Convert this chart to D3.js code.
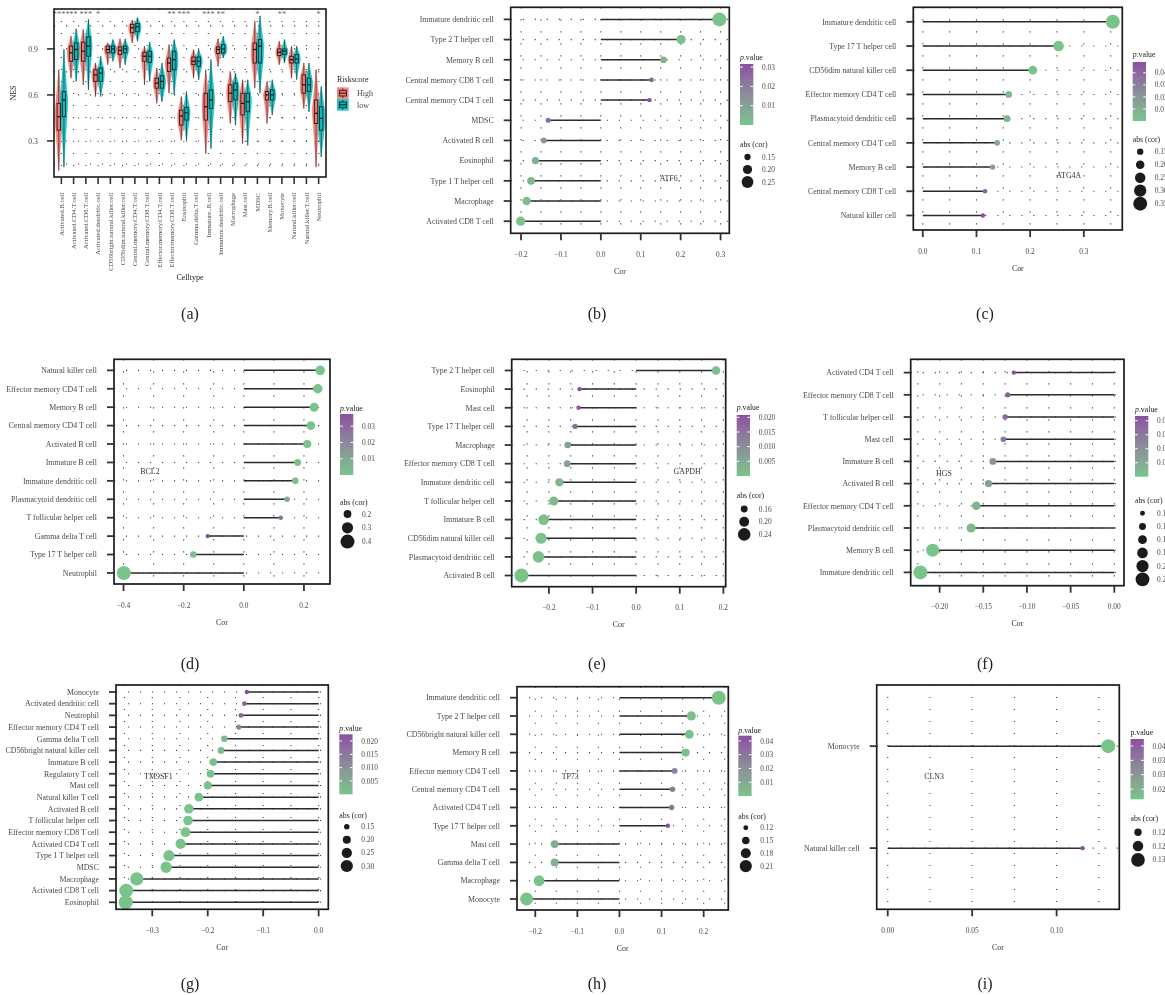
<!DOCTYPE html>
<html>
<head>
<meta charset="utf-8">
<script src="https://cdn.jsdelivr.net/npm/d3@7"></script>
<style>
  html, body { margin: 0; padding: 0; background: #fff; }
  svg { display: block; font-family: "Liberation Serif", "Times New Roman", serif; will-change: transform; }
</style>
</head>
<body>
<svg id="fig" width="1165" height="995"></svg>
<script>
// ---------------- Panel (a): NES of immune cell types by risk score group ----------------
const cellTypes = ["Activated.B.cell","Activated.CD4.T.cell","Activated.CD8.T.cell","Activated.dendritic.cell",
  "CD56bright.natural.killer.cell","CD56dim.natural.killer.cell","Central.memory.CD4.T.cell","Central.memory.CD8.T.cell",
  "Effector.memory.CD4.T.cell","Effector.memory.CD8.T.cell","Eosinophil","Gamma.delta.T.cell","Immature..B.cell",
  "Immature.dendritic.cell","Macrophage","Mast.cell","MDSC","Memory.B.cell","Monocyte","Natural.killer.cell",
  "Natural.killer.T.cell","Neutrophil"];
const riskGroups = ["High", "low"];
const nesTicks = [0.3, 0.6, 0.9];
// [min, q1, median, q3, max] per cell type
const highStats = [
  [0.107,0.370,0.458,0.545,0.764],[0.709,0.819,0.874,0.918,0.983],[0.666,0.819,0.885,0.944,1.027],
  [0.589,0.688,0.731,0.764,0.808],[0.797,0.874,0.896,0.918,0.939],[0.775,0.863,0.891,0.913,0.966],
  [0.939,1.005,1.038,1.060,1.088],[0.666,0.819,0.852,0.878,0.918],[0.545,0.644,0.677,0.709,0.775],
  [0.611,0.753,0.808,0.841,0.928],[0.304,0.403,0.462,0.501,0.589],[0.709,0.797,0.819,0.847,0.896],
  [0.217,0.436,0.523,0.611,0.764],[0.786,0.869,0.896,0.913,0.966],[0.414,0.556,0.611,0.666,0.753],
  [0.282,0.469,0.545,0.611,0.699],[0.644,0.808,0.896,0.939,1.082],[0.414,0.567,0.600,0.622,0.688],
  [0.797,0.856,0.878,0.900,0.950],[0.709,0.808,0.830,0.852,0.918],[0.512,0.611,0.666,0.731,0.808],
  [0.129,0.414,0.480,0.567,0.764]];
const lowStats = [
  [0.129,0.458,0.567,0.622,0.896],[0.688,0.830,0.896,0.939,1.031],[0.633,0.852,0.918,0.979,1.093],
  [0.589,0.688,0.742,0.775,0.852],[0.819,0.874,0.900,0.918,0.961],[0.797,0.874,0.900,0.918,0.966],
  [0.950,1.012,1.045,1.066,1.104],[0.688,0.812,0.852,0.885,0.944],[0.556,0.644,0.688,0.725,0.808],
  [0.600,0.764,0.830,0.885,0.961],[0.304,0.436,0.484,0.519,0.622],[0.699,0.786,0.819,0.847,0.896],
  [0.250,0.512,0.567,0.633,0.830],[0.841,0.874,0.900,0.928,0.983],[0.403,0.567,0.633,0.677,0.742],
  [0.271,0.490,0.556,0.611,0.699],[0.611,0.808,0.918,0.961,1.115],[0.469,0.567,0.600,0.633,0.699],
  [0.808,0.863,0.885,0.900,0.961],[0.699,0.808,0.834,0.863,0.918],[0.490,0.622,0.666,0.709,0.808],
  [0.195,0.370,0.447,0.523,0.655]];
const sigLabels = ["****","**","***","*","","","","","","**","***","","***","**","","","*","","**","","","*"];

// ---------------- Panels (b)-(i): gene / immune cell correlations ----------------
const atf6Cells = ["Immature dendritic cell","Type 2 T helper cell","Memory B cell","Central memory CD8 T cell",
  "Central memory CD4 T cell","MDSC","Activated B cell","Eosinophil","Type 1 T helper cell","Macrophage","Activated CD8 T cell"];
const atf6Cor = [0.297, 0.201, 0.157, 0.127, 0.122, -0.132, -0.143, -0.164, -0.175, -0.186, -0.201];
const atf6P = [0.00001, 0.0009, 0.0055, 0.026, 0.0316, 0.024, 0.013, 0.005, 0.0035, 0.002, 0.0009];

const atg4aCells = ["Immature dendritic cell","Type 17 T helper cell","CD56dim natural killer cell","Effector memory CD4 T cell",
  "Plasmacytoid dendritic cell","Central memory CD4 T cell","Memory B cell","Central memory CD8 T cell","Natural killer cell"];
const atg4aCor = [0.354, 0.253, 0.205, 0.160, 0.157, 0.1385, 0.130, 0.116, 0.112];
const atg4aP = [0.00001, 0.0001, 0.0008, 0.0045, 0.0055, 0.011, 0.018, 0.042, 0.049];

const bcl2Cells = ["Natural killer cell","Effector memory CD4 T cell","Memory B cell","Central memory CD4 T cell",
  "Activated B cell","Immature B cell","Immature dendritic cell","Plasmacytoid dendritic cell","T follicular helper cell",
  "Gamma delta T cell","Type 17 T helper cell","Neutrophil"];
const bcl2Cor = [0.254, 0.246, 0.234, 0.223, 0.211, 0.179, 0.171, 0.144, 0.123, -0.120, -0.168, -0.399];
const bcl2P = [0.00001, 0.00001, 0.00002, 0.00004, 0.0001, 0.0008, 0.0012, 0.007, 0.027, 0.0375, 0.0025, 0.000001];

const gapdhCells = ["Type 2 T helper cell","Eosinophil","Mast cell","Type 17 T helper cell","Macrophage",
  "Effector memory CD8 T cell","Immature dendritic cell","T follicular helper cell","Immature B cell",
  "CD56dim natural killer cell","Plasmacytoid dendritic cell","Activated B cell"];
const gapdhCor = [0.183, -0.130, -0.132, -0.140, -0.157, -0.158, -0.176, -0.189, -0.212, -0.218, -0.224, -0.263];
const gapdhP = [0.0012, 0.0208, 0.0195, 0.015, 0.0068, 0.0066, 0.0028, 0.0018, 0.0006, 0.0005, 0.0004, 0.00001];

const hgsCells = ["Activated CD4 T cell","Effector memory CD8 T cell","T follicular helper cell","Mast cell",
  "Immature B cell","Activated B cell","Effector memory CD4 T cell","Plasmacytoid dendritic cell","Memory B cell",
  "Immature dendritic cell"];
const hgsCor = [-0.115, -0.122, -0.125, -0.127, -0.139, -0.144, -0.158, -0.164, -0.208, -0.222];
const hgsP = [0.0217, 0.019, 0.017, 0.0155, 0.009, 0.0075, 0.003, 0.002, 0.0001, 0.00002];

const tm9sf1Cells = ["Monocyte","Activated dendritic cell","Neutrophil","Effector memory CD4 T cell","Gamma delta T cell",
  "CD56bright natural killer cell","Immature B cell","Regulatory T cell","Mast cell","Natural killer T cell",
  "Activated B cell","T follicular helper cell","Effector memory CD8 T cell","Activated CD4 T cell",
  "Type 1 T helper cell","MDSC","Macrophage","Activated CD8 T cell","Eosinophil"];
const tm9sf1Cor = [-0.1295, -0.134, -0.140, -0.144, -0.170, -0.176, -0.190, -0.195, -0.200, -0.216, -0.234,
  -0.2355, -0.240, -0.249, -0.270, -0.275, -0.328, -0.347, -0.348];
const tm9sf1P = [0.0225, 0.020, 0.018, 0.013, 0.002, 0.0015, 0.0006, 0.0005, 0.0004, 0.0001, 0.00003,
  0.00003, 0.00002, 0.00001, 0.000002, 0.000001, 0.0000001, 0.00000001, 0.00000001];

const tp73Cells = ["Immature dendritic cell","Type 2 T helper cell","CD56bright natural killer cell","Memory B cell",
  "Effector memory CD4 T cell","Central memory CD4 T cell","Activated CD4 T cell","Type 17 T helper cell",
  "Mast cell","Gamma delta T cell","Macrophage","Monocyte"];
const tp73Cor = [0.2357, 0.1706, 0.1659, 0.157, 0.131, 0.126, 0.124, 0.115, -0.154, -0.154, -0.191, -0.2206];
const tp73P = [0.00002, 0.0009, 0.0011, 0.002, 0.025, 0.028, 0.030, 0.0438, 0.0085, 0.0085, 0.0008, 0.0001];

const cln3Cells = ["Monocyte","Natural killer cell"];
const cln3Cor = [0.1306, 0.1154];
const cln3P = [0.0215, 0.0424];

// axis breaks and legend breaks per gene
const atf6Ticks = [-0.2,-0.1,0,0.1,0.2,0.3],  atf6PBreaks = [0.01,0.02,0.03],  atf6SizeBreaks = [0.15,0.20,0.25];
const atg4aTicks = [0,0.1,0.2,0.3],           atg4aPBreaks = [0.01,0.02,0.03,0.04], atg4aSizeBreaks = [0.15,0.20,0.25,0.30,0.35];
const bcl2Ticks = [-0.4,-0.2,0,0.2],          bcl2PBreaks = [0.01,0.02,0.03],  bcl2SizeBreaks = [0.2,0.3,0.4];
const gapdhTicks = [-0.2,-0.1,0,0.1,0.2],     gapdhPBreaks = [0.005,0.010,0.015,0.020], gapdhSizeBreaks = [0.16,0.20,0.24];
const hgsTicks = [-0.20,-0.15,-0.10,-0.05,0], hgsPBreaks = [0.005,0.010,0.015,0.020], hgsSizeBreaks = [0.12,0.14,0.16,0.18,0.20,0.22];
const tm9sf1Ticks = [-0.3,-0.2,-0.1,0],       tm9sf1PBreaks = [0.005,0.010,0.015,0.020], tm9sf1SizeBreaks = [0.15,0.20,0.25,0.30];
const tp73Ticks = [-0.2,-0.1,0,0.1,0.2],      tp73PBreaks = [0.01,0.02,0.03,0.04], tp73SizeBreaks = [0.12,0.15,0.18,0.21];
const cln3Ticks = [0,0.05,0.10],              cln3PBreaks = [0.025,0.030,0.035,0.040], cln3SizeBreaks = [0.120,0.125,0.130];

// ---------------- drawing ----------------
const svg = d3.select("#fig");
svg.append("rect").attr("width", 1165).attr("height", 995).attr("fill", "#fff");
const defs = svg.append("defs");

const GREEN = "#79C48B", PURPLE = "#8C4FA2";
const AXIS_TXT = "#4a4a4a", TITLE_TXT = "#222";
const HIGH_COL = "#F8766D", LOW_COL = "#00BFC4";

function dotted(g, xa, ya, xb, yb) {
  g.append("line").attr("x1", xa).attr("y1", ya).attr("x2", xb).attr("y2", yb)
    .attr("stroke", "#3a3a3a").attr("stroke-width", 1.1).attr("stroke-dasharray", "1.1,10.9");
}
function label(g, x, y, str, size, opts = {}) {
  return g.append("text").attr("x", x).attr("y", y).attr("dy", "0.35em")
    .attr("font-size", size).attr("fill", opts.fill || AXIS_TXT)
    .attr("text-anchor", opts.anchor || "start").text(str);
}

// ---------- panel (a) ----------
(function drawViolins() {
  const box = {x0: 54, y0: 9, x1: 326, y1: 177};
  const g = svg.append("g");
  const x = d3.scalePoint().domain(cellTypes).range([box.x0, box.x1]).padding(0.6);
  const y = d3.scaleLinear().domain([0.065, 1.16]).range([box.y1, box.y0]);

  cellTypes.forEach(c => dotted(g, x(c), box.y0, x(c), box.y1));
  d3.range(1, 8).map(k => k * 0.15).forEach(v => dotted(g, box.x0, y(v), box.x1, y(v)));

  const groupColor = d3.scaleOrdinal().domain(riskGroups).range([HIGH_COL, LOW_COL]);
  const dodge = d3.scalePoint().domain(riskGroups).range([-2.6, 2.6]);
  const halfW = 3.6, boxHalf = 1.7;

  const violin = (cx) => d3.area()
    .y(d => y(d.v)).x0(d => cx - d.w * halfW).x1(d => cx + d.w * halfW)
    .curve(d3.curveCatmullRom.alpha(0.5));

  const profile = s => {
    const [mn, q1, md, q3, mx] = s;
    return [{v: mn, w: 0}, {v: (mn + q1) / 2, w: 0.35}, {v: q1, w: 0.8}, {v: md, w: 1},
            {v: q3, w: 0.8}, {v: (q3 + mx) / 2, w: 0.35}, {v: mx, w: 0}];
  };

  cellTypes.forEach((c, i) => {
    [["High", highStats[i]], ["low", lowStats[i]]].forEach(([grp, s]) => {
      const cx = x(c) + dodge(grp);
      g.append("path").attr("d", violin(cx)(profile(s)))
        .attr("fill", groupColor(grp)).attr("fill-opacity", 0.85)
        .attr("stroke", groupColor(grp)).attr("stroke-width", 0.6);
    });
    [["High", highStats[i]], ["low", lowStats[i]]].forEach(([grp, s]) => {
      const cx = x(c) + dodge(grp);
      const [mn, q1, md, q3, mx] = s;
      g.append("line").attr("x1", cx).attr("x2", cx).attr("y1", y(mn)).attr("y2", y(mx))
        .attr("stroke", "#2a2a2a").attr("stroke-width", 0.7);
      g.append("rect").attr("x", cx - boxHalf).attr("width", boxHalf * 2)
        .attr("y", y(q3)).attr("height", y(q1) - y(q3))
        .attr("fill", groupColor(grp)).attr("stroke", "#1e1e1e").attr("stroke-width", 0.9);
      g.append("line").attr("x1", cx - boxHalf).attr("x2", cx + boxHalf).attr("y1", y(md)).attr("y2", y(md))
        .attr("stroke", "#111").attr("stroke-width", 1.2);
    });
  });

  // significance marks
  cellTypes.forEach((c, i) => {
    if (!sigLabels[i]) return;
    g.append("text").attr("x", x(c)).attr("y", y(1.11)).attr("text-anchor", "middle")
      .attr("font-size", 8.5).attr("fill", "#666").text(sigLabels[i]);
  });

  g.append("rect").attr("x", box.x0).attr("y", box.y0).attr("width", box.x1 - box.x0).attr("height", box.y1 - box.y0)
    .attr("fill", "none").attr("stroke", "#1a1a1a").attr("stroke-width", 1.6);

  nesTicks.forEach(v => {
    g.append("line").attr("x1", box.x0 - 7).attr("x2", box.x0).attr("y1", y(v)).attr("y2", y(v))
      .attr("stroke", "#333").attr("stroke-width", 1.6);
    label(g, box.x0 - 16, y(v), v.toFixed(1), 7.8, {anchor: "end"});
  });
  cellTypes.forEach(c => {
    g.append("line").attr("x1", x(c)).attr("x2", x(c)).attr("y1", box.y1).attr("y2", box.y1 + 7)
      .attr("stroke", "#333").attr("stroke-width", 1.6);
    g.append("text").attr("transform", `translate(${x(c)},${box.y1 + 16}) rotate(-90)`)
      .attr("dy", "0.35em").attr("text-anchor", "end").attr("font-size", 6.6).attr("fill", AXIS_TXT).text(c);
  });
  g.append("text").attr("transform", `translate(13,${(box.y0 + box.y1) / 2}) rotate(-90)`)
    .attr("dy", "0.35em").attr("text-anchor", "middle").attr("font-size", 8).attr("fill", TITLE_TXT).text("NES");
  label(g, (box.x0 + box.x1) / 2, 277, "Celltype", 8, {anchor: "middle", fill: TITLE_TXT});

  // legend
  const lx = 337, ly = 87.3, key = 11.7;
  label(g, lx, 79.3, "Riskscore", 8, {fill: TITLE_TXT});
  riskGroups.forEach((grp, k) => {
    const ky = ly + k * key;
    g.append("rect").attr("x", lx).attr("y", ky).attr("width", key).attr("height", key)
      .attr("fill", groupColor(grp)).attr("fill-opacity", 0.85);
    g.append("line").attr("x1", lx + key / 2).attr("x2", lx + key / 2).attr("y1", ky + 1).attr("y2", ky + key - 1)
      .attr("stroke", "#222").attr("stroke-width", 0.8);
    g.append("rect").attr("x", lx + 2.3).attr("y", ky + 3).attr("width", key - 4.6).attr("height", key - 6)
      .attr("fill", groupColor(grp)).attr("stroke", "#1e1e1e").attr("stroke-width", 0.9);
    g.append("line").attr("x1", lx + 2.3).attr("x2", lx + key - 2.3).attr("y1", ky + key / 2).attr("y2", ky + key / 2)
      .attr("stroke", "#111").attr("stroke-width", 1);
    label(g, lx + 20, ky + key / 2, grp, 8, {fill: AXIS_TXT});
  });
})();

// ---------- lollipop panels ----------
function lollipop(spec, lay, id) {
  const g = svg.append("g");
  const {x0, y0, x1, y1} = lay.box;
  const ext = d3.extent([0, ...spec.cor]);
  const pad = (ext[1] - ext[0]) * 0.05;
  const x = d3.scaleLinear().domain([ext[0] - pad, ext[1] + pad]).range([x0, x1]);
  const y = d3.scalePoint().domain(spec.cells).range([y0, y1]).padding(0.6);
  const absCor = spec.cor.map(Math.abs);
  const rs = d3.scaleLinear().domain(d3.extent(absCor).map(Math.sqrt)).range([2.2, 7.0]);
  const rad = v => rs(Math.sqrt(v));
  const pExt = d3.extent(spec.p);
  const col = d3.scaleLinear().domain(pExt).range([GREEN, PURPLE]).interpolate(d3.interpolateLab);

  // dotted grid: major + minor x breaks, one line per cell type
  const half = (spec.ticks[1] - spec.ticks[0]) / 2;
  const [d0, d1] = x.domain();
  for (let k = Math.ceil(d0 / half - 1e-9); k * half <= d1 + 1e-9; k++) dotted(g, x(k * half), y0, x(k * half), y1);
  spec.cells.forEach(c => dotted(g, x0, y(c), x1, y(c)));

  // stems and heads
  spec.cells.forEach((c, i) => {
    g.append("line").attr("x1", x(0)).attr("x2", x(spec.cor[i])).attr("y1", y(c)).attr("y2", y(c))
      .attr("stroke", "#2b2b2b").attr("stroke-width", 1.5);
  });
  spec.cells.forEach((c, i) => {
    g.append("circle").attr("cx", x(spec.cor[i])).attr("cy", y(c)).attr("r", rad(absCor[i]))
      .attr("fill", col(spec.p[i]));
  });

  // gene name
  const gy = d3.scaleLinear().domain([0, spec.cells.length - 1]).range([y(spec.cells[0]), y(spec.cells[spec.cells.length - 1])]);
  label(g, x(spec.geneAt[0]), gy(spec.geneAt[1]), spec.gene, 7.9, {anchor: "middle", fill: "#333"});

  // frame and axes
  g.append("rect").attr("x", x0).attr("y", y0).attr("width", x1 - x0).attr("height", y1 - y0)
    .attr("fill", "none").attr("stroke", "#1a1a1a").attr("stroke-width", 1.7);
  spec.cells.forEach(c => {
    g.append("line").attr("x1", x0 - 7).attr("x2", x0).attr("y1", y(c)).attr("y2", y(c))
      .attr("stroke", "#333").attr("stroke-width", 1.8);
    label(g, x0 - 17, y(c), c, 7.9, {anchor: "end"});
  });
  spec.ticks.forEach(v => {
    g.append("line").attr("x1", x(v)).attr("x2", x(v)).attr("y1", y1).attr("y2", y1 + 7)
      .attr("stroke", "#333").attr("stroke-width", 1.8);
    label(g, x(v), y1 + 21, spec.tickFmt(v).replace("-", "\u2212"), 7.4, {anchor: "middle"});
  });
  label(g, (x0 + x1) / 2, y1 + 38, "Cor", 7.9, {anchor: "middle", fill: "#333"});

  // colour legend
  const L = lay.legend, bw = 13.3;
  const t = g.append("text").attr("x", L.bx).attr("y", L.pTitle).attr("dy", "0.35em")
    .attr("font-size", 7.8).attr("fill", TITLE_TXT);
  if (spec.italicP) { t.append("tspan").attr("font-style", "italic").text("p"); t.append("tspan").text(".value"); }
  else t.text("p.value");
  const grad = defs.append("linearGradient").attr("id", "grad-" + id)
    .attr("x1", 0).attr("y1", 1).attr("x2", 0).attr("y2", 0);
  d3.range(0, 11).forEach(k => grad.append("stop").attr("offset", k / 10)
    .attr("stop-color", col(pExt[0] + (pExt[1] - pExt[0]) * k / 10)));
  g.append("rect").attr("x", L.bx).attr("y", L.barTop).attr("width", bw).attr("height", L.barBot - L.barTop)
    .attr("fill", `url(#grad-${id})`);
  const yb = d3.scaleLinear().domain(pExt).range([L.barBot, L.barTop]);
  spec.pBreaks.forEach(v => {
    g.append("line").attr("x1", L.bx).attr("x2", L.bx + 2.7).attr("y1", yb(v)).attr("y2", yb(v))
      .attr("stroke", "#fff").attr("stroke-width", 1);
    g.append("line").attr("x1", L.bx + bw - 2.7).attr("x2", L.bx + bw).attr("y1", yb(v)).attr("y2", yb(v))
      .attr("stroke", "#fff").attr("stroke-width", 1);
    label(g, L.bx + 22, yb(v), spec.pFmt(v), 7.4, {});
  });

  // size legend
  label(g, L.bx, L.sTitle, "abs (cor)", 7.8, {fill: TITLE_TXT});
  spec.sizeBreaks.forEach((v, k) => {
    const cy = L.sY0 + k * L.sStep;
    g.append("circle").attr("cx", L.bx + 7.5).attr("cy", cy).attr("r", rad(v)).attr("fill", "#1b1b1b");
    label(g, L.bx + 22, cy, spec.sizeFmt(v), 7.4, {});
  });

  // panel tag
  svg.append("text").attr("x", lay.tag[0]).attr("y", lay.tag[1]).attr("dy", "0.35em")
    .attr("text-anchor", "middle").attr("font-size", 16).attr("fill", "#222").text(lay.tag[2]);
}

const f1 = d3.format(".1f"), f2 = d3.format(".2f"), f3 = d3.format(".3f");
const ROW1_TAG = 313, ROW2_TAG = 663, ROW3_TAG = 983;

lollipop({gene: "ATF6", cells: atf6Cells, cor: atf6Cor, p: atf6P, ticks: atf6Ticks, tickFmt: f1,
  pBreaks: atf6PBreaks, pFmt: f2, sizeBreaks: atf6SizeBreaks, sizeFmt: f2, geneAt: [0.17, 7.87], italicP: true},
  {box: {x0: 510.7, y0: 7.3, x1: 729.3, y1: 233.3},
   legend: {bx: 740, pTitle: 57, barTop: 64, barBot: 125, sTitle: 144, sY0: 157, sStep: 12.5},
   tag: [597, ROW1_TAG, "(b)"]}, "b");

lollipop({gene: "ATG4A", cells: atg4aCells, cor: atg4aCor, p: atg4aP, ticks: atg4aTicks, tickFmt: f1,
  pBreaks: atg4aPBreaks, pFmt: f2, sizeBreaks: atg4aSizeBreaks, sizeFmt: f2, geneAt: [0.272, 6.35], italicP: true},
  {box: {x0: 913.3, y0: 7.3, x1: 1122.3, y1: 230},
   legend: {bx: 1132.7, pTitle: 54, barTop: 62, barBot: 121, sTitle: 139, sY0: 151.7, sStep: 13},
   tag: [985, ROW1_TAG, "(c)"]}, "c");

lollipop({gene: "BCL2", cells: bcl2Cells, cor: bcl2Cor, p: bcl2P, ticks: bcl2Ticks, tickFmt: f1,
  pBreaks: bcl2PBreaks, pFmt: f2, sizeBreaks: bcl2SizeBreaks, sizeFmt: f1, geneAt: [-0.312, 5.5], italicP: true},
  {box: {x0: 114, y0: 359.3, x1: 330, y1: 584},
   legend: {bx: 340, pTitle: 408, barTop: 414, barBot: 475, sTitle: 502, sY0: 514, sStep: 13.8},
   tag: [190, ROW2_TAG, "(d)"]}, "d");

lollipop({gene: "GAPDH", cells: gapdhCells, cor: gapdhCor, p: gapdhP, ticks: gapdhTicks, tickFmt: f1,
  pBreaks: gapdhPBreaks, pFmt: f3, sizeBreaks: gapdhSizeBreaks, sizeFmt: f2, geneAt: [0.117, 5.42], italicP: true},
  {box: {x0: 511.7, y0: 359.3, x1: 725.7, y1: 586.7},
   legend: {bx: 736.7, pTitle: 407.7, barTop: 415, barBot: 476, sTitle: 495.7, sY0: 509, sStep: 12.7},
   tag: [597, ROW2_TAG, "(e)"]}, "e");

lollipop({gene: "HGS", cells: hgsCells, cor: hgsCor, p: hgsP, ticks: hgsTicks, tickFmt: f2,
  pBreaks: hgsPBreaks, pFmt: f3, sizeBreaks: hgsSizeBreaks, sizeFmt: f2, geneAt: [-0.195, 4.53], italicP: true},
  {box: {x0: 910.7, y0: 359.3, x1: 1124, y1: 585.7},
   legend: {bx: 1135, pTitle: 409, barTop: 416, barBot: 476.7, sTitle: 500, sY0: 513.3, sStep: 13.2},
   tag: [985, ROW2_TAG, "(f)"]}, "f");

lollipop({gene: "TM9SF1", cells: tm9sf1Cells, cor: tm9sf1Cor, p: tm9sf1P, ticks: tm9sf1Ticks, tickFmt: f1,
  pBreaks: tm9sf1PBreaks, pFmt: f3, sizeBreaks: tm9sf1SizeBreaks, sizeFmt: f2, geneAt: [-0.289, 7.22], italicP: true},
  {box: {x0: 116, y0: 685, x1: 328.3, y1: 909.3},
   legend: {bx: 339.3, pTitle: 728.3, barTop: 734.3, barBot: 794.3, sTitle: 815, sY0: 826.7, sStep: 13.1},
   tag: [190, ROW3_TAG, "(g)"]}, "g");

lollipop({gene: "TP73", cells: tp73Cells, cor: tp73Cor, p: tp73P, ticks: tp73Ticks, tickFmt: f1,
  pBreaks: tp73PBreaks, pFmt: f2, sizeBreaks: tp73SizeBreaks, sizeFmt: f2, geneAt: [-0.117, 4.29], italicP: true},
  {box: {x0: 517, y0: 686.7, x1: 728.3, y1: 910},
   legend: {bx: 738.3, pTitle: 730, barTop: 735.7, barBot: 796, sTitle: 816, sY0: 827.7, sStep: 12.8},
   tag: [597, ROW3_TAG, "(h)"]}, "h");

lollipop({gene: "CLN3", cells: cln3Cells, cor: cln3Cor, p: cln3P, ticks: cln3Ticks, tickFmt: f2,
  pBreaks: cln3PBreaks, pFmt: f3, sizeBreaks: cln3SizeBreaks, sizeFmt: f3, geneAt: [0.0274, 0.295], italicP: false},
  {box: {x0: 876.7, y0: 685, x1: 1119.3, y1: 909.3},
   legend: {bx: 1130.5, pTitle: 732.7, barTop: 739, barBot: 799.3, sTitle: 818, sY0: 832.3, sStep: 13.8},
   tag: [985, ROW3_TAG, "(i)"]}, "i");

svg.append("text").attr("x", 190).attr("y", ROW1_TAG).attr("dy", "0.35em")
  .attr("text-anchor", "middle").attr("font-size", 16).attr("fill", "#222").text("(a)");
</script>
</body>
</html>
